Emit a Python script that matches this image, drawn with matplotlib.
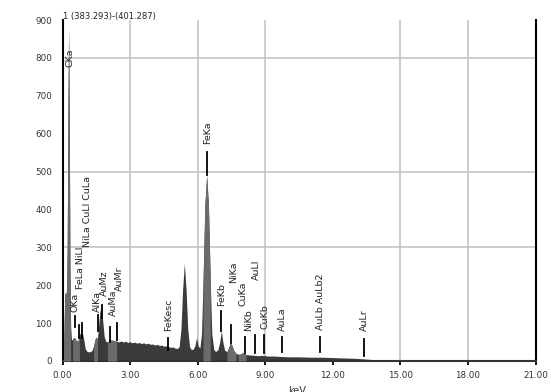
import matplotlib
matplotlib.use("Agg")
import matplotlib.pyplot as plt
import numpy as np

# spectrum (keV, counts)
energy_kev = np.array([
    0.00, 0.04, 0.06, 0.10, 0.14, 0.18, 0.21, 0.24, 0.27, 0.30, 0.33, 0.36,
    0.40, 0.45, 0.50, 0.55, 0.60, 0.65, 0.70, 0.75, 0.80, 0.85, 0.90, 0.95,
    1.00, 1.05, 1.10, 1.20, 1.30, 1.38, 1.45, 1.50, 1.55, 1.60, 1.66, 1.72,
    1.78, 1.85, 1.92, 2.00, 2.10, 2.20, 2.30, 2.40, 2.50, 2.60, 2.70, 2.80,
    2.90, 3.00, 3.10, 3.20, 3.30, 3.40, 3.50, 3.60, 3.70, 3.80, 3.90, 4.00,
    4.10, 4.20, 4.30, 4.40, 4.50, 4.60, 4.70, 4.80, 4.90, 5.00, 5.10, 5.18,
    5.26, 5.33, 5.41, 5.49, 5.56, 5.64, 5.72, 5.80, 5.88, 5.95, 6.02, 6.10,
    6.17, 6.24, 6.32, 6.40, 6.48, 6.56, 6.63, 6.72, 6.80, 6.90, 6.98, 7.05,
    7.12, 7.20, 7.30, 7.38, 7.45, 7.52, 7.60, 7.70, 7.80, 7.90, 8.00, 8.05,
    8.15, 8.30, 8.50, 8.70, 8.90, 9.10, 9.40, 9.70, 10.0, 10.5, 11.0, 11.5,
    12.0, 12.5, 13.0, 13.5, 14.0, 16.0, 18.0, 21.0])
counts = np.array([
    0, 0, 60, 175, 183, 170, 300, 650, 875, 650, 250, 90,
    55, 58, 62, 60, 55, 52, 55, 68, 75, 74, 70, 55,
    35, 28, 25, 24, 27, 40, 58, 63, 58, 90, 130, 145,
    110, 65, 52, 50, 56, 55, 54, 52, 50, 53, 50, 52,
    49, 51, 48, 50, 47, 49, 46, 48, 45, 47, 44, 45,
    42, 44, 41, 42, 39, 40, 38, 36, 37, 34, 33, 38,
    85, 185, 258, 185, 85, 38, 30, 31, 40, 62, 40, 34,
    70, 210, 410, 490, 410, 210, 70, 30, 25, 30, 50, 80,
    50, 28, 25, 35, 48, 42, 28, 20, 18, 18, 22, 22,
    17, 16, 15, 14, 15, 13, 13, 12, 11, 11, 10, 10,
    9, 8, 7, 5, 3, 3, 2, 2])

# highlighted regions (keV)
roi_lo = [0.04, 0.45, 1.38, 1.95, 6.20, 7.30, 7.80]
roi_hi = [0.36, 0.75, 1.58, 2.42, 6.62, 7.70, 8.22]

# peak labels: text, text x (keV), text bottom (counts), marker x, marker bottom, marker top
peak_names = ["CKa", "OKa", "FeLa NiLl", "NiLa CuLl CuLa", "AlKa", "AuMz", "AuMa", "AuMr",
              "FeKesc", "FeKa", "FeKb", "NiKa", "CuKa", "NiKb", "AuLl", "CuKb", "AuLa",
              "AuLb AuLb2", "AuLr"]
text_kev = [0.34, 0.55, 0.80, 1.10, 1.54, 1.84, 2.27, 2.52,
            4.70, 6.46, 7.08, 7.60, 8.02, 8.27, 8.60, 9.00, 9.75, 11.45, 13.40]
text_bottom = [775, 130, 190, 300, 130, 172, 118, 185,
               80, 572, 145, 205, 145, 80, 215, 85, 78, 82, 78]
marker_kev = [None, 0.55, 0.72, 0.86, 1.56, 1.74, 2.12, 2.42,
              4.67, 6.40, 7.05, 7.47, 8.10, None, 8.55, 8.95, 9.73, 11.45, 13.39]
marker_lo = [0, 90, 60, 60, 80, 113, 50, 55, 30, 490, 80, 48, 21, 0, 21, 21, 24, 24, 14]
marker_hi = [0, 118, 95, 100, 122, 148, 90, 100, 62, 552, 132, 95, 63, 0, 69, 69, 63, 63, 58]

x_ticks = [0, 3, 6, 9, 12, 15, 18, 21]
y_ticks = [0, 100, 200, 300, 400, 500, 600, 700, 800, 900]

fig = plt.figure(figsize=(5.51, 3.92), dpi=100)
ax = fig.add_axes([62.5 / 551, 31 / 392, 473 / 551, 341 / 392])

# grid (only the lines that show in the picture)
for gx in [3, 6, 9, 15, 18]:
    ax.axvline(gx, color="#c0c0c0", lw=1.1, zorder=0)
for gy in [300, 500, 800]:
    ax.axhline(gy, color="#c0c0c0", lw=1.1, zorder=0)

ax.fill_between(energy_kev, counts, color="#3b3b3b", lw=0, zorder=2)
for lo, hi in zip(roi_lo, roi_hi):
    m = (energy_kev >= lo) & (energy_kev <= hi)
    ax.fill_between(energy_kev[m], counts[m], color="#6b6b6b", lw=0, zorder=3)

for name, tx, tb, mx, mlo, mhi in zip(peak_names, text_kev, text_bottom,
                                      marker_kev, marker_lo, marker_hi):
    if mx is not None:
        ax.plot([mx, mx], [mlo, mhi], color="black", lw=1.3, zorder=4)
    ax.text(tx, tb, name, rotation=90, ha="center", va="bottom",
            fontsize=6.8, color="#222222", zorder=5)

ax.set_xlim(0, 21)
ax.set_ylim(0, 900)

ax.set_xticks(x_ticks)
ax.set_xticklabels([f"{v:.2f}" for v in x_ticks])
ax.set_yticks(y_ticks)
ax.set_yticklabels([str(v) for v in y_ticks])
ax.set_yticks([0, 300, 500, 800], minor=True)
ax.tick_params(axis="y", which="major", length=0, pad=7.5, labelsize=6.3,
               labelcolor="#333333")
ax.tick_params(axis="y", which="minor", length=3.5, width=1.3, direction="out")
ax.tick_params(axis="x", length=3, width=1.3, pad=4.5, labelsize=6.3,
               labelcolor="#333333")

ax.spines["top"].set_visible(False)
for side in ["left", "right"]:
    ax.spines[side].set_linewidth(1.5)
    ax.spines[side].set_color("black")
ax.spines["bottom"].set_linewidth(1.5)
ax.spines["bottom"].set_color("#333333")

fig.text(63 / 551, 1 - 16 / 392, "1 (383.293)-(401.287)", fontsize=6,
         ha="left", va="center", color="#222222")
fig.text(297 / 551, 1 - 386 / 392, "keV", fontsize=7, ha="center", va="top",
         color="#333333")

fig.savefig("out.png", dpi=100)
